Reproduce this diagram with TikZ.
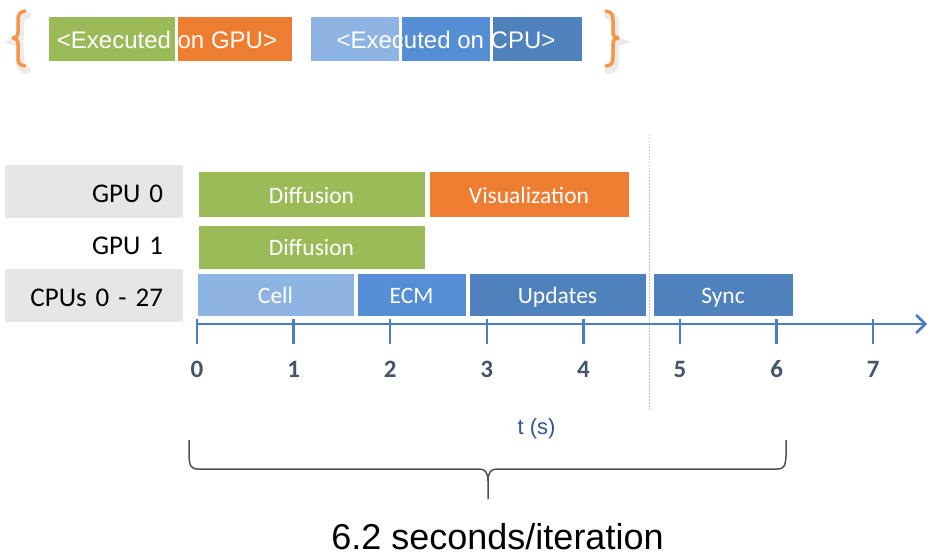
\documentclass[tikz,border=0pt]{standalone}
\usepackage{fontspec}
\setmainfont{Liberation Sans}
\newfontfamily\calibrifont{Carlito}
\usetikzlibrary{arrows.meta}

\definecolor{gpugreen}{RGB}{155,187,89}
\definecolor{gpuorange}{RGB}{237,125,49}
\definecolor{cpulight}{RGB}{142,180,227}
\definecolor{cpumid}{RGB}{85,142,213}
\definecolor{cpudark}{RGB}{79,129,189}
\definecolor{lanegray}{RGB}{231,230,230}
\definecolor{axisblue}{RGB}{74,126,192}
\definecolor{ticktext}{RGB}{68,84,106}
\definecolor{unitblue}{RGB}{47,85,151}
\definecolor{bracegray}{RGB}{80,80,80}
\definecolor{legendbrace}{RGB}{247,150,70}

% a bar spanning (x1,y1)-(x2,y2): name, x1, y1, x2, y2, colour, text
\newcommand\ganttbar[7]{%
  \node[bar, fill=#6, minimum width={#4-#2}, minimum height={#5-#3}]
    (#1) at ({(#2+#4)/2},{(#3+#5)/2}) {#7};}

\begin{document}
\begin{tikzpicture}[x=1pt, y=-1pt,
  bar/.style={draw=white, line width=1pt, inner sep=0pt, outer sep=0pt,
    text=white, font=\calibrifont\fontsize{23.5}{28}\selectfont,
    text height=17pt, text depth=0pt},
  legendbox/.style={draw=white, line width=1pt, inner sep=0pt, outer sep=0pt,
    minimum height=45pt},
  lane/.style={inner sep=0pt, outer sep=0pt, minimum width=178pt,
    text width=138pt, inner xsep=20pt, align=right,
    font=\calibrifont\fontsize{27}{32}\selectfont, text=black,
    text height=21pt, text depth=0pt},
  legendtext/.style={text=white, font=\fontsize{24}{28}\selectfont, inner sep=0pt},
  ticklabel/.style={anchor=base, text=ticktext, inner sep=0pt,
    font=\calibrifont\bfseries\fontsize{25}{30}\selectfont},
  tickmark/.style={draw=axisblue, line width=2.5pt},
  curlybrace/.style={draw=legendbrace, line width=3.5pt, line cap=round, line join=round},
  braceshadow/.style={draw=black, opacity=0.08, line width=8pt, line cap=round}
]
\path[use as bounding box] (0,0) rectangle (928,556);

% ---------- legend ----------
\node[legendbox, fill=gpugreen, minimum width=127pt] (lg1) at (111.5,39.5) {};
\node[legendbox, fill=gpuorange, minimum width=115pt] (lg2) at (234.5,39.5) {};
\node[legendtext] (lgt1) at (167,40) {<Executed on GPU>};

\node[legendbox, fill=cpulight, minimum width=89pt] (lc1) at (354.5,39.5) {};
\node[legendbox, fill=cpumid, minimum width=89pt] (lc2) at (445.5,39.5) {};
\node[legendbox, fill=cpudark, minimum width=90pt] (lc3) at (537,39.5) {};
\node[legendtext] (lgt2) at (446,40) {<Executed on CPU>};

% legend braces with a soft shadow
\begin{scope}[shift={(2,4)}]
  \draw[braceshadow] (25,11) .. controls (19,12) and (18,15) .. (18,21) -- (18,32)
    .. controls (18,36) and (16,38) .. (13,38)
    .. controls (16,38) and (18,40) .. (18,44) -- (18,57)
    .. controls (18,63) and (19,65) .. (25,66);
  \draw[braceshadow] (606,11) .. controls (612,12) and (613,15) .. (613,21) -- (613,32)
    .. controls (613,36) and (615,38) .. (618,38)
    .. controls (615,38) and (613,40) .. (613,44) -- (613,57)
    .. controls (613,63) and (612,65) .. (606,66);
\end{scope}
\draw[curlybrace] (25,11) .. controls (19,12) and (18,15) .. (18,21) -- (18,32)
  .. controls (18,36) and (16,38) .. (13,38)
  .. controls (16,38) and (18,40) .. (18,44) -- (18,57)
  .. controls (18,63) and (19,65) .. (25,66);
\draw[curlybrace] (606,11) .. controls (612,12) and (613,15) .. (613,21) -- (613,32)
  .. controls (613,36) and (615,38) .. (618,38)
  .. controls (615,38) and (613,40) .. (613,44) -- (613,57)
  .. controls (613,63) and (612,65) .. (606,66);

% ---------- lane labels ----------
\node[lane, fill=lanegray, minimum height=53pt] (gpu0) at (94,191.5) {GPU 0};
\node[lane, minimum height=51pt] (gpu1) at (94,243.5) {GPU 1};
\node[lane, fill=lanegray, minimum height=53pt] (cpus) at (94,295.5) {CPUs 0 - 27};

% ---------- separator between compute and sync ----------
\coordinate (sepTop) at (649,135);
\coordinate (sepBot) at (649,410);
\draw[draw={rgb,255:red,195;green,195;blue,195}, line width=1pt,
  dash pattern=on 1.5pt off 1.5pt] (sepTop) -- (sepBot);

% ---------- bars ----------
\ganttbar{diff0}{198}{172}{425}{217}{gpugreen}{Diffusion}
\ganttbar{vis}{429}{172}{629}{217}{gpuorange}{Visualization}
\ganttbar{diff1}{198}{225}{425}{269}{gpugreen}{Diffusion}
\ganttbar{cell}{197}{273}{354}{316}{cpulight}{Cell}
\ganttbar{ecm}{357}{273}{466}{316}{cpumid}{ECM}
\ganttbar{upd}{469}{273}{646}{316}{cpudark}{Updates}
\ganttbar{sync}{653}{273}{793}{316}{cpudark}{Sync}

% ---------- time axis ----------
\coordinate (axStart) at (196,324);
\coordinate (axEnd) at (927,324);
\draw[draw=axisblue, line width=2.5pt,
  -{Straight Barb[length=9pt, width=18pt, line width=2.5pt]}] (axStart) -- (axEnd);
\foreach \k in {0,...,7} {
  \coordinate (tk\k) at ({197+96.6*\k},319);
  \draw[tickmark] (tk\k) -- ++(0,25);
  \node[ticklabel] (tl\k) at ({197+96.6*\k},377) {\k};
}
\node[text=unitblue, font=\fontsize{22}{26}\selectfont, anchor=base, inner sep=0pt]
  (unit) at (536.5,434) {t (s)};

% ---------- iteration brace ----------
\coordinate (brL) at (189,440);
\coordinate (brR) at (786,440);
\coordinate (brTip) at (488,499);
\draw[draw=bracegray, line width=1.5pt, line join=round]
  (brL) -- (189,456) .. controls (189.5,466) and (191,469) .. (198,469) -- (479,469)
  .. controls (485,469) and (488,472) .. (488,481) -- (brTip);
\draw[draw=bracegray, line width=1.5pt, line join=round]
  (brR) -- (786,456) .. controls (785.5,466) and (784,469) .. (777,469) -- (497,469)
  .. controls (491,469) and (488,472) .. (488,481);
\node[anchor=base, inner sep=0pt, font=\fontsize{36}{43}\selectfont] (iter)
  at (497.5,549) {6.2 seconds/iteration};
\end{tikzpicture}
\end{document}
